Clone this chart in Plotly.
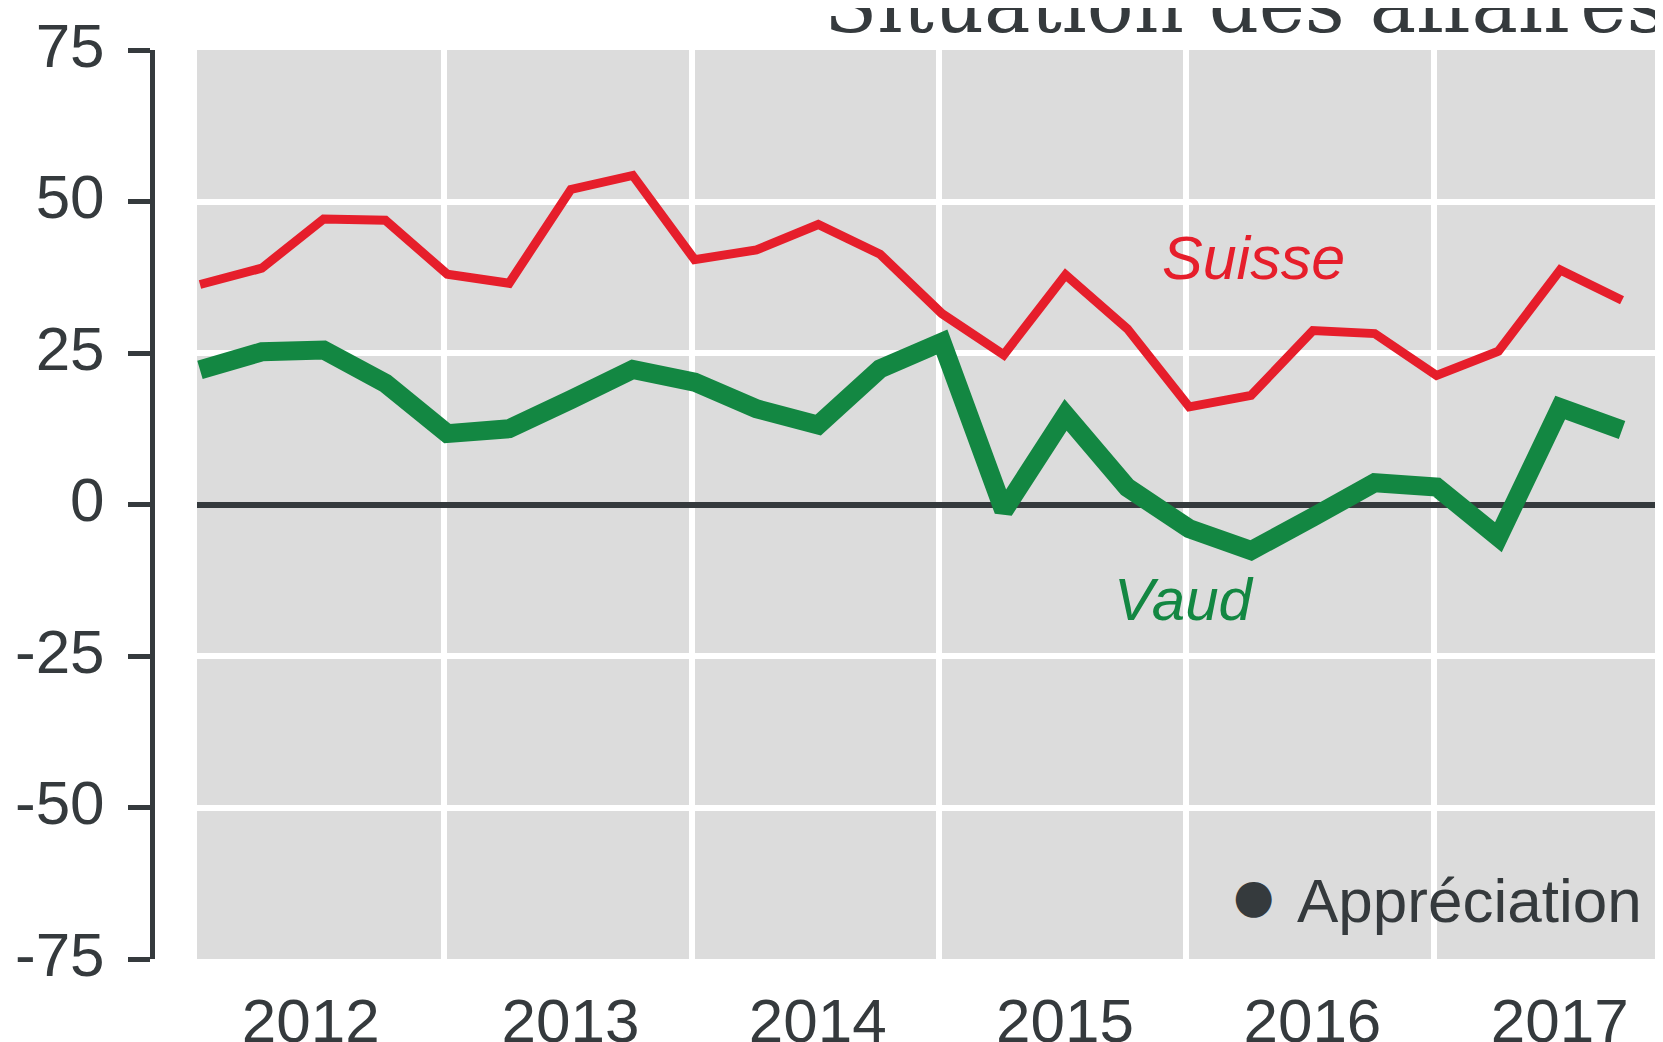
import plotly.graph_objects as go

DARK = "#353A3D"
RED = "#E61E2B"
GREEN = "#138742"
PANEL = "#DCDCDC"

YEARS = [2012, 2013, 2014, 2015, 2016, 2017]
QUARTERS = [1, 2, 3, 4]

# soldes d'opinion trimestriels, 2012 T1 -> 2017 T4
suisse = [36.3, 39.0, 47.1, 46.9, 38.0, 36.5, 52.0, 54.3,
          40.4, 42.0, 46.2, 41.3, 31.5, 24.7, 37.9, 29.0,
          16.1, 18.0, 28.7, 28.2, 21.3, 25.3, 38.7, 33.7]
vaud = [22.2, 25.2, 25.5, 20.0, 11.7, 12.5, 17.3, 22.3,
        20.2, 15.8, 13.1, 22.4, 26.8, -1.0, 14.8, 2.8,
        -4.0, -7.6, -2.1, 3.6, 2.9, -5.4, 16.0, 12.3]

x = [y + (q - 1) / 4 + 0.012 for y in YEARS for q in QUARTERS]

year_labels = [str(y) for y in YEARS]
label_pos = [2012.46, 2013.51, 2014.51, 2015.51, 2016.51, 2017.51]
y_ticks = [-75, -50, -25, 0, 25, 50, 75]
y_labels = [str(v) for v in y_ticks]  # trait d'union, pas de signe moins

# la page html ajoute une marge de 8 px autour du graphique
W, H = 1663, 1042

fig = go.Figure()
fig.add_trace(go.Scatter(x=x, y=suisse, mode="lines", name="Suisse",
                         line=dict(color=RED, width=9)))
fig.add_trace(go.Scatter(x=x, y=vaud, mode="lines", name="Vaud",
                         line=dict(color=GREEN, width=19)))

fig.add_annotation(x=2016.27, y=40.6, text="<i>Suisse</i>", showarrow=False,
                   font=dict(family="Liberation Sans, Arial", size=61, color=RED))
fig.add_annotation(x=2015.99, y=-15.7, text="<i>Vaud</i>", showarrow=False,
                   font=dict(family="Liberation Sans, Arial", size=60, color=GREEN))

# légende
fig.add_annotation(x=2016.27, y=-64.5, text="●", showarrow=False,
                   font=dict(family="DejaVu Sans", size=47, color=DARK))
fig.add_annotation(x=2016.44, y=-65.4, text="Appréciation", showarrow=False,
                   xanchor="left",
                   font=dict(family="Liberation Sans, Arial", size=62, color=DARK))

fig.add_annotation(xref="paper", yref="paper", x=0.4892, y=0.998, text="Situation des affaires",
                   showarrow=False, xanchor="left", yanchor="bottom",
                   font=dict(family="DejaVu Serif", size=78, color=DARK))

fig.update_layout(
    width=W, height=H,
    margin=dict(l=0, r=0, t=42, b=91),
    paper_bgcolor="#FFFFFF",
    plot_bgcolor=PANEL,
    showlegend=False,
    font=dict(family="Liberation Sans, Arial", size=62, color=DARK),
    xaxis=dict(
        domain=[189 / W, 1],
        range=[2012.0, 2017.96],
        automargin=False,
        tickmode="array", tickvals=label_pos, ticktext=year_labels,
        showgrid=False, zeroline=False, showline=False, ticks="",
        ticklabelstandoff=20,
        minor=dict(tickmode="array", tickvals=YEARS[1:], showgrid=True,
                   gridcolor="#FFFFFF", gridwidth=6, ticks=""),
    ),
    yaxis=dict(
        range=[-75, 75],
        automargin=False,
        tickmode="array", tickvals=y_ticks, ticktext=y_labels,
        anchor="free", position=144 / W,
        showline=True, linecolor=DARK, linewidth=5,
        ticks="outside", ticklen=22, tickwidth=5, tickcolor=DARK,
        ticklabelstandoff=11, ticklabelshift=-5,
        showgrid=True, gridcolor="#FFFFFF", gridwidth=6,
        zeroline=True, zerolinecolor=DARK, zerolinewidth=6,
    ),
)

fig.write_html("out.html")
